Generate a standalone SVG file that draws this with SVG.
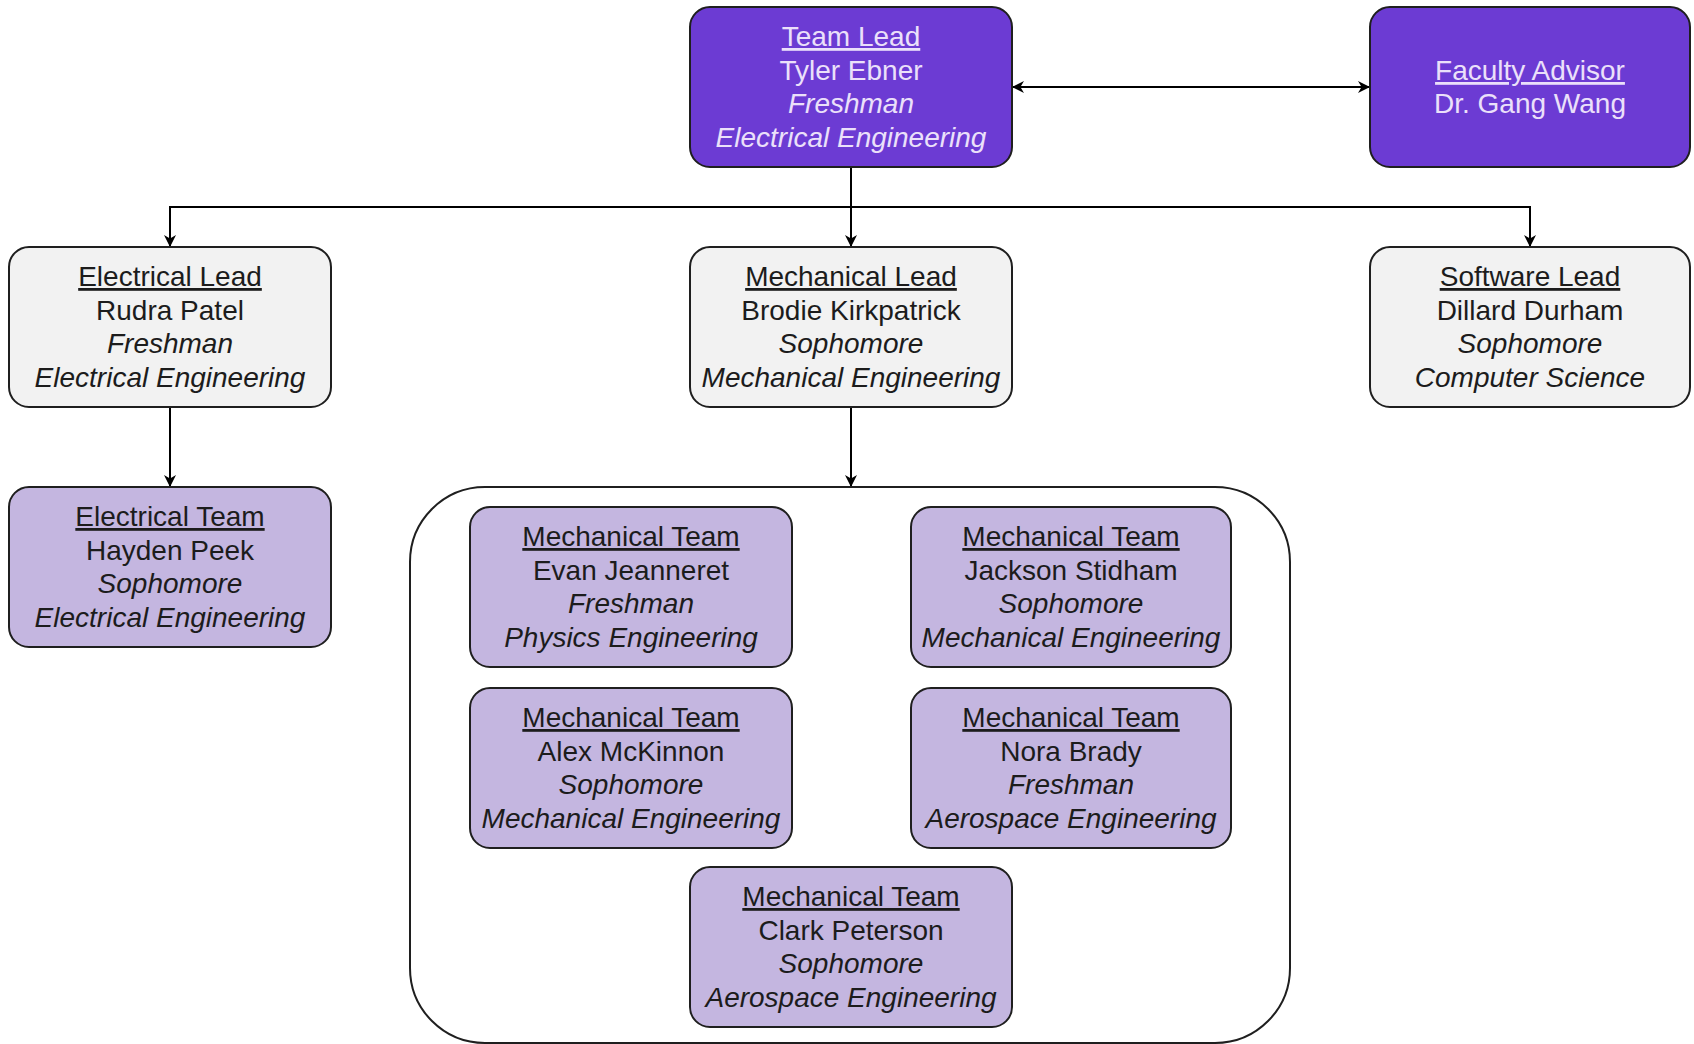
<svg xmlns="http://www.w3.org/2000/svg" width="1694" height="1044" viewBox="0 0 1694 1044">
<defs>
<style>
.box{stroke:#1f1f1f;stroke-width:2}
.dark{fill:#6c3bd3}
.gray{fill:#f2f2f2}
.lav{fill:#c4b6e0}
.t{font-family:"Liberation Sans",Arial,sans-serif;font-size:28px;text-anchor:middle}
.tl{fill:#ebe0fa}
.td{fill:#1c1c1c}
.u{text-decoration:underline}
.i{font-style:italic}
.c{fill:none;stroke:#000;stroke-width:2}
</style>
<marker id="ah" viewBox="0 0 10 10" refX="10" refY="5" markerWidth="12" markerHeight="12" markerUnits="userSpaceOnUse" orient="auto-start-reverse">
<path d="M0,0 L10,5 L0,10 L3,5 z" fill="#000"/>
</marker>
</defs>
<rect width="1694" height="1044" fill="#fff"/>

<g id="connectors">
<line class="c" x1="1012" y1="87" x2="1370" y2="87" marker-start="url(#ah)" marker-end="url(#ah)"/>
<path class="c" d="M851,167 V207 H170 V247" marker-end="url(#ah)"/>
<path class="c" d="M851,167 V247" marker-end="url(#ah)"/>
<path class="c" d="M851,207 H1530 V247" marker-end="url(#ah)"/>
<path class="c" d="M170,407 V487" marker-end="url(#ah)"/>
<path class="c" d="M851,407 V487" marker-end="url(#ah)"/>
</g>

<g id="mech-team-group">
<rect x="410" y="487" width="880" height="556" rx="75" fill="#fff" stroke="#1f1f1f" stroke-width="2"/>
</g>

<g id="team-lead">
<rect class="box dark" x="690" y="7" width="322" height="160" rx="20"/>
<text class="t tl" x="851"><tspan class="u" y="46">Team Lead</tspan><tspan x="851" y="80">Tyler Ebner</tspan><tspan class="i" x="851" y="113">Freshman</tspan><tspan class="i" x="851" y="147">Electrical Engineering</tspan></text>
</g>

<g id="faculty-advisor">
<rect class="box dark" x="1370" y="7" width="320" height="160" rx="20"/>
<text class="t tl" x="1530"><tspan class="u" y="80">Faculty Advisor</tspan><tspan x="1530" y="113">Dr. Gang Wang</tspan></text>
</g>

<g id="electrical-lead">
<rect class="box gray" x="9" y="247" width="322" height="160" rx="20"/>
<text class="t td" x="170"><tspan class="u" y="286">Electrical Lead</tspan><tspan x="170" y="320">Rudra Patel</tspan><tspan class="i" x="170" y="353">Freshman</tspan><tspan class="i" x="170" y="387">Electrical Engineering</tspan></text>
</g>

<g id="mechanical-lead">
<rect class="box gray" x="690" y="247" width="322" height="160" rx="20"/>
<text class="t td" x="851"><tspan class="u" y="286">Mechanical Lead</tspan><tspan x="851" y="320">Brodie Kirkpatrick</tspan><tspan class="i" x="851" y="353">Sophomore</tspan><tspan class="i" x="851" y="387">Mechanical Engineering</tspan></text>
</g>

<g id="software-lead">
<rect class="box gray" x="1370" y="247" width="320" height="160" rx="20"/>
<text class="t td" x="1530"><tspan class="u" y="286">Software Lead</tspan><tspan x="1530" y="320">Dillard Durham</tspan><tspan class="i" x="1530" y="353">Sophomore</tspan><tspan class="i" x="1530" y="387">Computer Science</tspan></text>
</g>

<g id="electrical-team">
<rect class="box lav" x="9" y="487" width="322" height="160" rx="20"/>
<text class="t td" x="170"><tspan class="u" y="526">Electrical Team</tspan><tspan x="170" y="560">Hayden Peek</tspan><tspan class="i" x="170" y="593">Sophomore</tspan><tspan class="i" x="170" y="627">Electrical Engineering</tspan></text>
</g>

<g id="mech-evan">
<rect class="box lav" x="470" y="507" width="322" height="160" rx="20"/>
<text class="t td" x="631"><tspan class="u" y="546">Mechanical Team</tspan><tspan x="631" y="580">Evan Jeanneret</tspan><tspan class="i" x="631" y="613">Freshman</tspan><tspan class="i" x="631" y="647">Physics Engineering</tspan></text>
</g>

<g id="mech-jackson">
<rect class="box lav" x="911" y="507" width="320" height="160" rx="20"/>
<text class="t td" x="1071"><tspan class="u" y="546">Mechanical Team</tspan><tspan x="1071" y="580">Jackson Stidham</tspan><tspan class="i" x="1071" y="613">Sophomore</tspan><tspan class="i" x="1071" y="647">Mechanical Engineering</tspan></text>
</g>

<g id="mech-alex">
<rect class="box lav" x="470" y="688" width="322" height="160" rx="20"/>
<text class="t td" x="631"><tspan class="u" y="727">Mechanical Team</tspan><tspan x="631" y="761">Alex McKinnon</tspan><tspan class="i" x="631" y="794">Sophomore</tspan><tspan class="i" x="631" y="828">Mechanical Engineering</tspan></text>
</g>

<g id="mech-nora">
<rect class="box lav" x="911" y="688" width="320" height="160" rx="20"/>
<text class="t td" x="1071"><tspan class="u" y="727">Mechanical Team</tspan><tspan x="1071" y="761">Nora Brady</tspan><tspan class="i" x="1071" y="794">Freshman</tspan><tspan class="i" x="1071" y="828">Aerospace Engineering</tspan></text>
</g>

<g id="mech-clark">
<rect class="box lav" x="690" y="867" width="322" height="160" rx="20"/>
<text class="t td" x="851"><tspan class="u" y="906">Mechanical Team</tspan><tspan x="851" y="940">Clark Peterson</tspan><tspan class="i" x="851" y="973">Sophomore</tspan><tspan class="i" x="851" y="1007">Aerospace Engineering</tspan></text>
</g>
</svg>
